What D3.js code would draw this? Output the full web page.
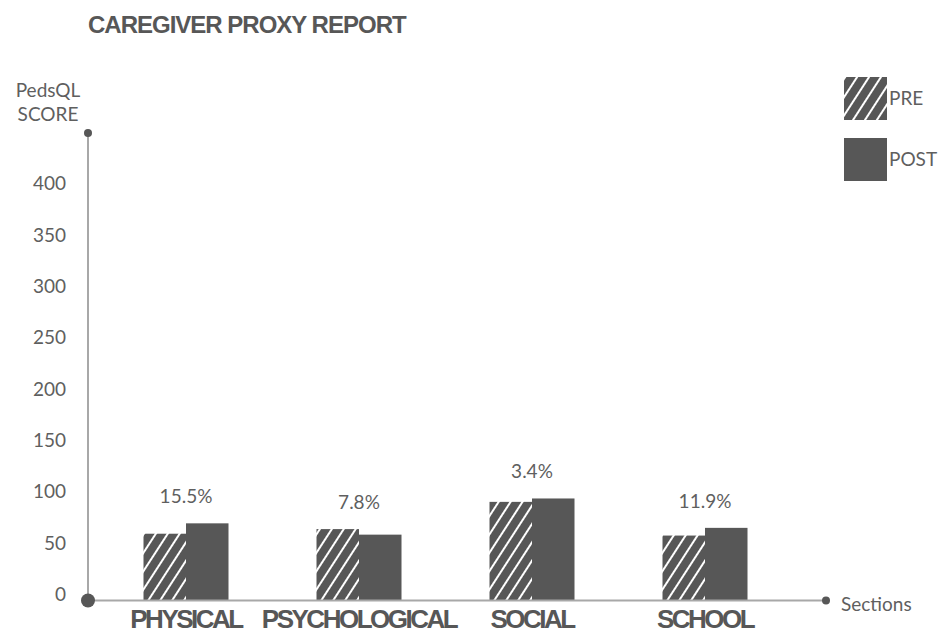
<!DOCTYPE html>
<html>
<head>
<meta charset="utf-8">
<script src="https://cdn.jsdelivr.net/npm/d3@7"></script>
<style>
  html, body { margin: 0; padding: 0; background: #fff; }
  svg { display: block; font-family: "Lato", "Liberation Sans", sans-serif; }
</style>
</head>
<body>
<svg id="chart" width="943" height="633"></svg>
<script>
// Section names along the x axis
const sections = ["PHYSICAL", "PSYCHOLOGICAL", "SOCIAL", "SCHOOL"];
// Mean PedsQL scores before and after
const preScores  = [65.0, 69.5, 96.0, 63.2];
const postScores = [75.1, 64.1, 99.3, 70.7];
// Change labels shown above each pair
const changeLabels = ["15.5%", "7.8%", "3.4%", "11.9%"];
// Y tick values
const yTicks = [0, 50, 100, 150, 200, 250, 300, 350, 400];
const seriesNames = ["PRE", "POST"];

const svg = d3.select("#chart");
const ink = "#575757";
const textGray = "#5f5f5f";
const axisGray = "#a8a8a8";

// hatch pattern for the PRE series
const defs = svg.append("defs");
const pat = defs.append("pattern")
  .attr("id", "hatch")
  .attr("patternUnits", "userSpaceOnUse")
  .attr("width", 10).attr("height", 10)
  .attr("patternTransform", "rotate(33)");
pat.append("rect").attr("width", 10).attr("height", 10).attr("fill", ink);
pat.append("line").attr("x1", 1).attr("y1", 0).attr("x2", 1).attr("y2", 10)
  .attr("stroke", "#fff").attr("stroke-width", 2);

const x0 = 88, yBase = 600.5;
const y = d3.scaleLinear().domain([0, 455]).range([yBase, 133]);
const xBand = d3.scaleBand().domain(sections).range([99.5, 791.5]).paddingInner(0).paddingOuter(0);
const barW = 42.5;
const xSub = d3.scaleBand().domain(seriesNames).range([0, barW * 2]);

// title
svg.append("text")
  .attr("x", 88).attr("y", 33)
  .attr("fill", ink)
  .style("font-family", "'Liberation Sans', sans-serif")
  .style("font-weight", "bold").style("font-size", "24px")
  .style("letter-spacing", "-1px")
  .text("CAREGIVER PROXY REPORT");

// y-axis title
const yt = svg.append("text").attr("fill", textGray).attr("text-anchor", "middle")
  .style("font-size", "19px");
yt.append("tspan").attr("x", 48).attr("y", 97).text("PedsQL");
yt.append("tspan").attr("x", 48).attr("y", 121).text("SCORE");

// tick labels
svg.append("g").selectAll("text").data(yTicks).join("text")
  .attr("x", 66).attr("y", d => y(d) - 6).attr("dy", "0.35em")
  .attr("text-anchor", "end").attr("fill", textGray)
  .style("font-size", "19px")
  .text(d => d);

// bars
const groups = svg.append("g").selectAll("g").data(sections).join("g")
  .attr("transform", d => `translate(${xBand(d) + xBand.bandwidth() / 2 - barW},0)`);

groups.each(function (d, i) {
  const g = d3.select(this);
  const vals = [preScores[i], postScores[i]];
  g.selectAll("rect").data(vals).join("rect")
    .attr("x", (v, j) => xSub(seriesNames[j]))
    .attr("width", xSub.bandwidth())
    .attr("y", v => y(v))
    .attr("height", v => yBase - y(v))
    .attr("fill", (v, j) => j === 0 ? "url(#hatch)" : ink);
  g.append("text")
    .attr("x", barW).attr("y", y(d3.max(vals)) - 20)
    .attr("text-anchor", "middle").attr("fill", textGray)
    .style("font-size", "19px")
    .text(changeLabels[i]);
});

// axes
svg.append("line").attr("x1", x0).attr("x2", x0).attr("y1", yBase).attr("y2", y(455))
  .attr("stroke", axisGray).attr("stroke-width", 2);
svg.append("line").attr("x1", x0).attr("x2", 826).attr("y1", yBase).attr("y2", yBase)
  .attr("stroke", axisGray).attr("stroke-width", 2);
svg.append("circle").attr("cx", x0).attr("cy", y(455)).attr("r", 4).attr("fill", ink);
svg.append("circle").attr("cx", 826).attr("cy", yBase).attr("r", 4).attr("fill", ink);
svg.append("circle").attr("cx", x0).attr("cy", yBase).attr("r", 7).attr("fill", ink);

// category labels
svg.append("g").selectAll("text").data(sections).join("text")
  .attr("x", d => xBand(d) + xBand.bandwidth() / 2)
  .attr("y", 628)
  .attr("text-anchor", "middle").attr("fill", ink)
  .style("font-family", "'Liberation Sans', sans-serif")
  .style("font-weight", "bold").style("font-size", "26px")
  .style("letter-spacing", "-2.5px")
  .text(d => d);

svg.append("text").attr("x", 841).attr("y", 604).attr("dy", "0.35em")
  .attr("fill", textGray).style("font-size", "19px").text("Sections");

// legend
const legend = svg.append("g").selectAll("g").data(seriesNames).join("g")
  .attr("transform", (d, i) => `translate(844,${77 + i * 61})`);
legend.append("rect").attr("width", 43).attr("height", 43)
  .attr("fill", (d, i) => i === 0 ? "url(#hatch)" : ink);
legend.append("text").attr("x", 45).attr("y", 21).attr("dy", "0.35em")
  .attr("fill", textGray).style("font-size", "19px").text(d => d);
</script>
</body>
</html>
